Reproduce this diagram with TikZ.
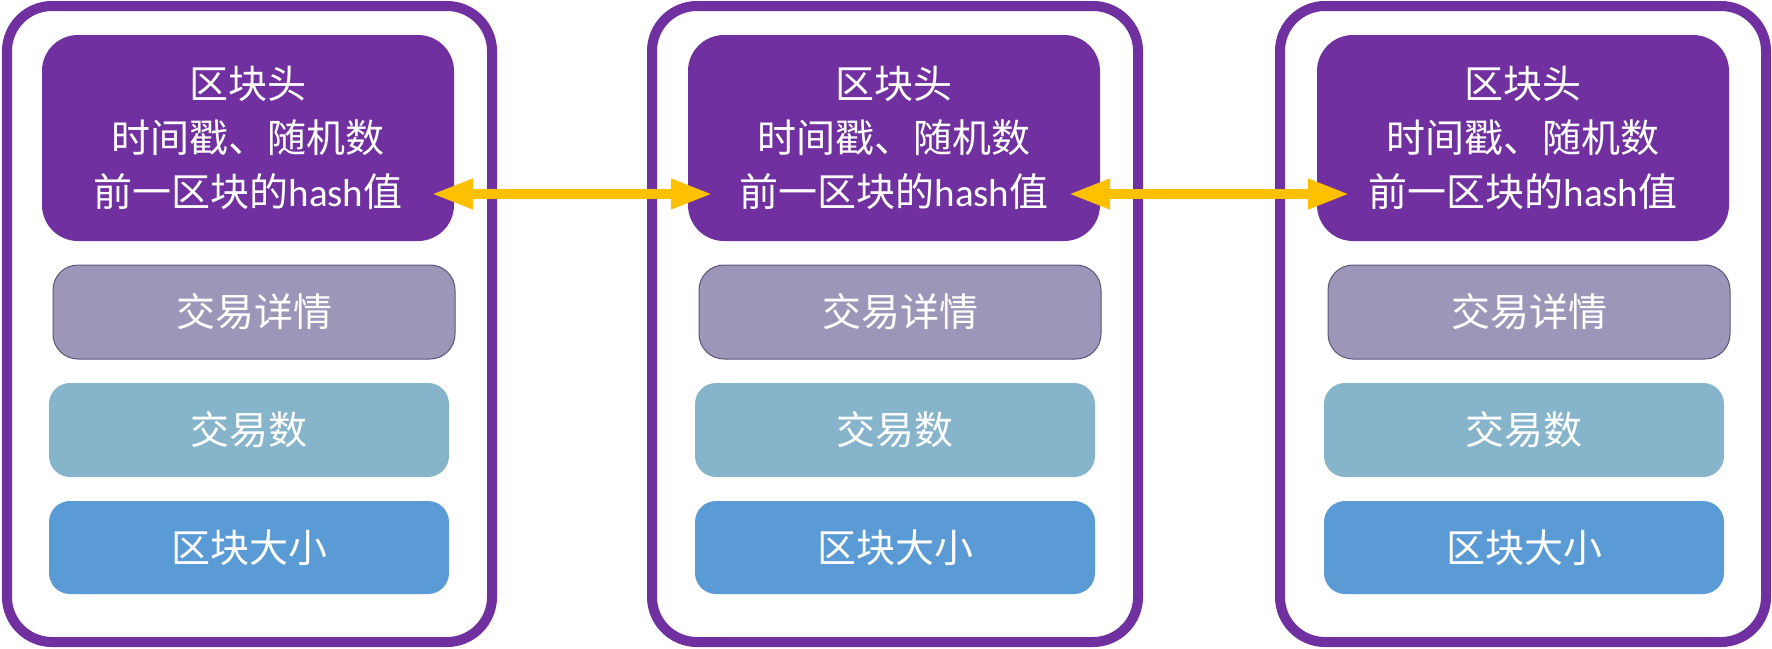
\documentclass[tikz,border=0pt]{standalone}
\usepackage{fontspec}
\setmainfont{Noto Sans CJK SC}
\newfontfamily\latfont{Carlito}
\usetikzlibrary{arrows.meta,calc}
\definecolor{hdpurple}{HTML}{7030A0}
\definecolor{txdetail}{HTML}{9E96B8}
\definecolor{txborder}{HTML}{5E5478}
\definecolor{txcount}{HTML}{86B5CB}
\definecolor{blksize}{HTML}{5B9BD5}
\definecolor{arrowgold}{HTML}{FFC000}
\begin{document}
\begin{tikzpicture}[x=1pt,y=-1pt,
  blockframe/.style={draw=hdpurple,line width=10pt,rounded corners=45pt,fill=white,
    minimum height=636pt,inner sep=0pt},
  cell/.style={inner sep=0pt,text=white,align=center,
    font=\fontsize{39}{54}\selectfont},
  header/.style={cell,fill=hdpurple,rounded corners=36pt,minimum width=412pt,minimum height=206pt},
  details/.style={cell,fill=txdetail,draw=txborder,line width=1pt,rounded corners=25pt,
    minimum width=402pt,minimum height=94pt},
  count/.style={cell,fill=txcount,rounded corners=21pt,minimum width=400pt,minimum height=94pt},
  bsize/.style={cell,fill=blksize,rounded corners=21pt,minimum width=400pt,minimum height=93pt},
  biarrow/.style={draw=arrowgold,line width=10pt,
    {Triangle[length=42pt,width=28pt]}-{Triangle[length=42pt,width=28pt]}}
]
\useasboundingbox (0,0) rectangle (1772,648);

% frames
\node[blockframe,minimum width=485pt] (f1) at (249.5,324) {};
\node[blockframe,minimum width=486pt] (f2) at (895,324) {};
\node[blockframe,minimum width=486pt] (f3) at (1523,324) {};

% block 1
\node[header] (h1) at (248,138) {区块头\\时间戳、随机数\\前一区块的{\latfont hash}值};
\node[details] (d1) at (254,312) {交易详情};
\node[count] (c1) at (249,430) {交易数};
\node[bsize] (s1) at (249,547.5) {区块大小};

% block 2
\node[header] (h2) at (894,138) {区块头\\时间戳、随机数\\前一区块的{\latfont hash}值};
\node[details] (d2) at (900,312) {交易详情};
\node[count] (c2) at (895,430) {交易数};
\node[bsize] (s2) at (895,547.5) {区块大小};

% block 3
\node[header] (h3) at (1523,138) {区块头\\时间戳、随机数\\前一区块的{\latfont hash}值};
\node[details] (d3) at (1529,312) {交易详情};
\node[count] (c3) at (1524,430) {交易数};
\node[bsize] (s3) at (1524,547.5) {区块大小};

% links
\draw[biarrow] ($(h1.east)+(-23,56)$) -- ($(h2.west)+(25,56)$);
\draw[biarrow] ($(h2.east)+(-32,56)$) -- ($(h3.west)+(33,56)$);
\end{tikzpicture}
\end{document}
